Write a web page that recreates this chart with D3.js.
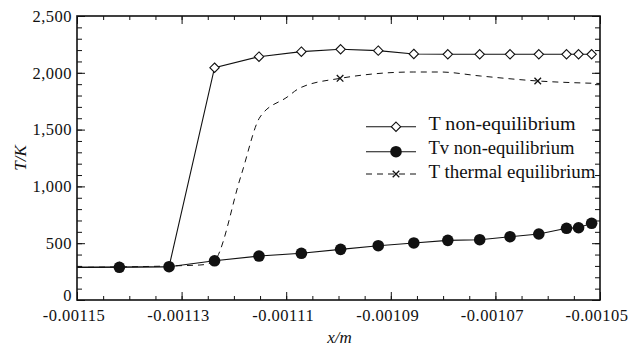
<!DOCTYPE html>
<html>
<head>
<meta charset="utf-8">
<script src="https://cdn.jsdelivr.net/npm/d3@7"></script>
<style>
  body { margin: 0; background: #fff; }
</style>
</head>
<body>
<script>
// x positions shared by the two non-equilibrium series (m)
const xGrid = [-0.0011419, -0.0011324, -0.0011237, -0.0011152, -0.0011071, -0.0010996, -0.0010924,
    -0.0010856, -0.0010791, -0.0010730, -0.0010672, -0.0010617, -0.0010564, -0.0010541, -0.0010516];
const tNonEq = [290, 293, 2045, 2142, 2186, 2207, 2195, 2166, 2163, 2163, 2163, 2163, 2163, 2163, 2163];
const tvNonEq = [288, 293, 345, 387, 411, 446, 478, 502, 525, 531, 557, 581, 631, 636, 675];
// both start at the inlet
const xInlet = -0.00115;
const tInlet = 287;

// T thermal equilibrium (dashed)
const xEq = [-0.00115, -0.0011265, -0.001124, -0.0011186, -0.001115, -0.0011098, -0.0011074,
    -0.0010997, -0.0010856, -0.0010806, -0.0010729, -0.0010619, -0.00105];
const tEq = [287, 308, 334, 1100, 1611, 1787, 1866, 1951, 2007, 2007, 1972, 1928, 1906];
const eqMarkX = [-0.0010997, -0.0010619];
const eqMarkT = [1951, 1928];

const xTicks = [-0.00115, -0.00113, -0.00111, -0.00109, -0.00107, -0.00105];
const xTickLabels = ['-0.00115', '-0.00113', '-0.00111', '-0.00109', '-0.00107', '-0.00105'];
const yTicks = [0, 500, 1000, 1500, 2000, 2500];
const legendLabels = ['T non-equilibrium', 'Tv non-equilibrium', 'T thermal equilibrium'];

const serif = '"Liberation Serif", "Times New Roman", serif';
const width = 632, height = 349;
const margin = {top: 16, right: 32, bottom: 49, left: 77};
const w = width - margin.left - margin.right;
const h = height - margin.top - margin.bottom;

const svg = d3.select('body').append('svg')
    .attr('width', width)
    .attr('height', height);
svg.append('rect').attr('width', width).attr('height', height).attr('fill', '#fff');

const g = svg.append('g').attr('transform', `translate(${margin.left},${margin.top})`);

const x = d3.scaleLinear().domain([-0.00115, -0.00105]).range([0, w]);
const y = d3.scaleLinear().domain([0, 2500]).range([h, 0]);

const xMinor = d3.range(0, 21).map(i => -0.00115 + i * 0.000005);
const yMinor = d3.range(0, 26).map(i => i * 100);

// minor ticks on all four sides
function minor(axis, ticks, size) {
    return axis.tickValues(ticks).tickSize(size).tickFormat('');
}
g.append('g').attr('transform', `translate(0,${h})`).call(minor(d3.axisBottom(x), xMinor, -4));
g.append('g').call(minor(d3.axisTop(x), xMinor, -4));
g.append('g').call(minor(d3.axisLeft(y), yMinor, -5));
g.append('g').attr('transform', `translate(${w},0)`).call(minor(d3.axisRight(y), yMinor, -5));

// major ticks with labels
const xAxisG = g.append('g').attr('transform', `translate(0,${h})`)
    .call(d3.axisBottom(x).tickValues(xTicks).tickSize(-8).tickPadding(9)
        .tickFormat((d, i) => xTickLabels[i]));
g.append('g')
    .call(d3.axisTop(x).tickValues(xTicks).tickSize(-8).tickFormat(''));
const yAxisG = g.append('g')
    .call(d3.axisLeft(y).tickValues(yTicks).tickSize(-8).tickPadding(5)
        .tickFormat(d3.format(',')));
g.append('g').attr('transform', `translate(${w},0)`)
    .call(d3.axisRight(y).tickValues(yTicks).tickSize(-8).tickFormat(''));

g.selectAll('.domain').remove();
g.selectAll('.tick line').attr('stroke', '#111');
g.selectAll('.tick text')
    .attr('font-size', 16.5)
    .attr('letter-spacing', 0.5);
// labels sit a little left of their ticks, as printed
xAxisG.selectAll('.tick text').attr('dx', -3.5);
yAxisG.selectAll('.tick text').filter(d => d === 0).attr('dy', '-0.0em');

// frame
g.append('rect').attr('width', w).attr('height', h)
    .attr('fill', 'none').attr('stroke', '#111').attr('stroke-width', 1.6);

// axis titles
svg.append('text')
    .attr('x', margin.left + w / 2 + 1).attr('y', 343)
    .attr('text-anchor', 'middle')
    .attr('font-size', 17).attr('font-style', 'italic')
    .text('x/m');
svg.append('text')
    .attr('transform', `translate(25.5,${margin.top + h / 2}) rotate(-90)`)
    .attr('text-anchor', 'middle')
    .attr('font-size', 17).attr('font-style', 'italic')
    .text('T/K');

const line = d3.line().x(d => x(d[0])).y(d => y(d[1]));
const nonEqPts = [[xInlet, tInlet]].concat(xGrid.map((v, i) => [v, tNonEq[i]]));
const tvPts = [[xInlet, tInlet]].concat(xGrid.map((v, i) => [v, tvNonEq[i]]));
const eqPts = xEq.map((v, i) => [v, tEq[i]]);

// thermal equilibrium dashed curve
g.append('path')
    .attr('d', line.curve(d3.curveMonotoneX)(eqPts))
    .attr('fill', 'none').attr('stroke', '#111').attr('stroke-width', 1)
    .attr('stroke-dasharray', '6,5');
line.curve(d3.curveLinear);

g.append('path').attr('d', line(nonEqPts))
    .attr('fill', 'none').attr('stroke', '#111').attr('stroke-width', 1.1);
g.append('path').attr('d', line(tvPts))
    .attr('fill', 'none').attr('stroke', '#111').attr('stroke-width', 1.1);

const diamond = d3.symbol().type(d3.symbolDiamond2).size(56);
const cross = d3.symbol().type(d3.symbolX).size(30);

g.selectAll('.dia').data(xGrid).enter().append('path')
    .attr('class', 'dia')
    .attr('d', diamond)
    .attr('transform', (d, i) => `translate(${x(d)},${y(tNonEq[i])})`)
    .attr('fill', '#fff').attr('stroke', '#111').attr('stroke-width', 1.1);

g.selectAll('.dot').data(xGrid).enter().append('circle')
    .attr('class', 'dot')
    .attr('cx', d => x(d)).attr('cy', (d, i) => y(tvNonEq[i]))
    .attr('r', 5.8).attr('fill', '#111');

g.selectAll('.crs').data(eqMarkX).enter().append('path')
    .attr('class', 'crs')
    .attr('d', cross)
    .attr('transform', (d, i) => `translate(${x(d)},${y(eqMarkT[i])})`)
    .attr('stroke', '#111').attr('stroke-width', 1.3);

// legend
const legY = [126.7, 151.7, 174];
const legTextY = [130, 154, 178];
const legTextW = [147, 146, 167];
const leg = svg.append('g');
legendLabels.forEach((label, i) => {
    const ly = legY[i];
    leg.append('line')
        .attr('x1', 366).attr('x2', 416).attr('y1', ly).attr('y2', ly)
        .attr('stroke', '#111').attr('stroke-width', i === 2 ? 1 : 1.1)
        .attr('stroke-dasharray', i === 2 ? '6,5' : null);
    if (i === 0) {
        leg.append('path').attr('d', diamond)
            .attr('transform', `translate(396,${ly})`)
            .attr('fill', '#fff').attr('stroke', '#111').attr('stroke-width', 1.1);
    } else if (i === 1) {
        leg.append('circle').attr('cx', 396).attr('cy', ly).attr('r', 5.8).attr('fill', '#111');
    } else {
        leg.append('path').attr('d', cross)
            .attr('transform', `translate(396,${ly})`)
            .attr('stroke', '#111').attr('stroke-width', 1.3);
    }
    leg.append('text')
        .attr('x', 428.5).attr('y', legTextY[i])
        .attr('font-size', 18)
        .attr('textLength', legTextW[i])
        .attr('lengthAdjust', 'spacingAndGlyphs')
        .text(label);
});

// serif everywhere (the axis generator sets sans-serif on its groups)
svg.selectAll('g').attr('font-family', serif);
svg.selectAll('text').attr('font-family', serif).attr('fill', '#111');
</script>
</body>
</html>
